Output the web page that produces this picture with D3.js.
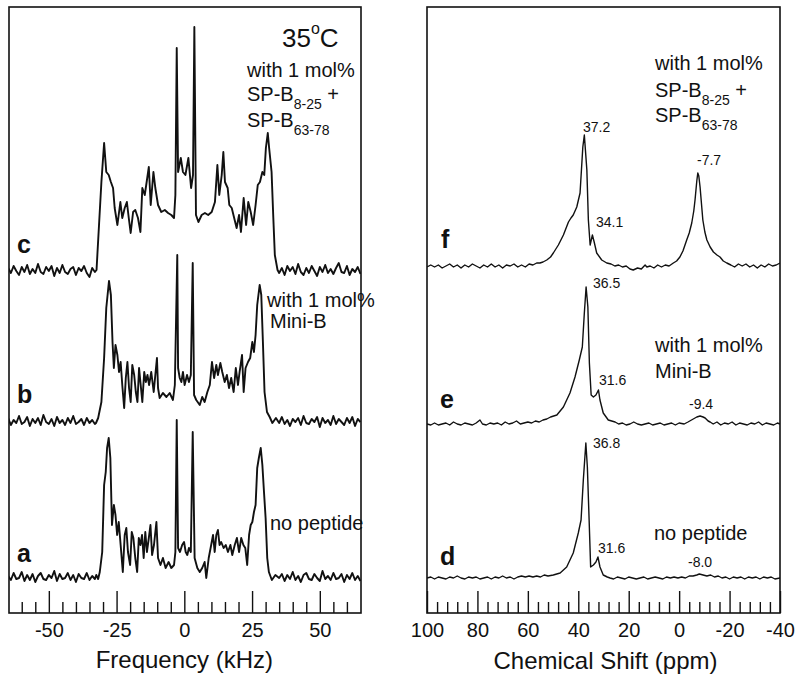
<!DOCTYPE html>
<html><head><meta charset="utf-8">
<script src="https://cdn.jsdelivr.net/npm/d3@7"></script>
<style>body{margin:0;background:#fff} svg{display:block}</style>
</head><body><svg id="chart" width="800" height="681"></svg>
<script>
// ---------------- DATA ----------------
// tick values
const freqMajorTicks = [-50, -25, 0, 25, 50];
const freqMinorTicks = [-60, -55, -45, -40, -35, -30, -20, -15, -10, -5, 5, 10, 15, 20, 30, 35, 40, 45, 55, 60];
const ppmMajorTicks = [100, 80, 60, 40, 20, 0, -20, -40];
const ppmMinorTicks = [96, 92, 88, 84, 76, 72, 68, 64, 56, 52, 48, 44, 36, 32, 28, 24, 16, 12, 8, 4, -4, -8, -12, -16, -24, -28, -32, -36];

// 2H spectra (kHz, relative intensity); baseline noise read at 1 kHz steps
const noiseLeftStart = -65, noiseRightStart = 35;
const cNoiseL = [2,-3,4,-1,-5,3,-2,5,-4,1,-3,6,-2,-4,3,-1,4,-6,2,-3,5,-2,-4,1,3,-5,2,-1,4,-3,-7,2,-2];
const cNoiseR = [-3,2,-5,4,-1,3,-4,6,-2,-5,2,-3,4,-1,-6,3,-2,5,-3,1,-4,2,7,-2,-3,4,-5,1,-2,3,-4];
const bNoiseL = [3,-4,1,-2,5,-3,-1,4,-5,2,-2,3,-4,6,-1,-3,2,-5,4,-2,1,-4,3,-2,5,-3,-1,2,-4,3,-2,1,-3];
const bNoiseR = [-2,4,-3,1,-5,2,-1,3,-4,5,-2,-3,2,-1,4,-6,3,-2,1,-4,5,-3,2,-1,-4,3,-2,4,-5,2,-1];
const aNoiseL = [1,-3,4,-2,-1,5,-4,2,-3,3,-5,1,4,-2,-3,2,-1,6,-4,3,-2,-1,4,-3,2,-5,3,-1,-2,4,-3,1,-2];
const aNoiseR = [-1,3,-4,2,-2,5,-3,1,-5,2,4,-2,-3,3,-1,-4,6,-2,1,-3,4,-2,-1,3,-5,2,-2,4,-3,1,-4];

const spectrumC = [[-32.4,0],[-30.6,88],[-29.6,127],[-28.8,98],[-27.9,95],[-27.1,88],[-26.3,82],[-25.7,62],[-24.7,45],[-23.6,68],[-22.9,52],[-22.0,62],[-21.2,68],[-20.5,52],[-19.8,37],[-18.9,58],[-18.1,60],[-17.1,52],[-16.2,38],[-15.5,82],[-14.6,75],[-13.9,88],[-13.1,103],[-12.4,65],[-11.4,98],[-10.7,82],[-9.7,65],[-8.5,58],[-7.2,60],[-6.0,57],[-4.8,55],[-3.8,52],[-3.3,75],[-2.8,222],[-2.3,98],[-1.3,112],[-0.5,98],[0.4,95],[1.5,112],[2.5,82],[3.2,95],[3.7,243],[4.3,55],[5.2,48],[6.4,55],[7.6,57],[8.8,55],[10.1,58],[11.3,68],[12.2,105],[12.9,75],[13.8,95],[14.4,118],[15.0,88],[16.0,82],[16.6,65],[17.5,62],[18.4,52],[19.3,42],[20.2,55],[20.9,38],[21.9,72],[22.8,45],[23.6,68],[24.5,58],[25.4,45],[26.3,65],[27.1,85],[27.9,88],[28.8,98],[29.5,95],[30.1,122],[30.8,137],[31.3,122],[32.2,98],[32.8,55],[33.4,15],[34.4,0]];

const spectrumB = [[-32.6,-2],[-31.8,3],[-30.6,19],[-29.6,63],[-28.8,113],[-27.8,140],[-27.1,126],[-26.5,79],[-26.0,53],[-25.4,76],[-24.7,66],[-24.1,49],[-23.5,59],[-22.9,36],[-22.2,13],[-21.6,43],[-21.0,59],[-20.4,33],[-19.8,19],[-19.2,56],[-18.5,46],[-17.9,29],[-17.3,19],[-16.7,53],[-16.1,36],[-15.5,19],[-14.8,49],[-14.2,39],[-13.6,46],[-13.0,36],[-12.2,49],[-11.3,29],[-10.7,46],[-10.1,63],[-9.7,33],[-9.1,23],[-7.9,28],[-6.6,24],[-5.4,28],[-4.2,21],[-3.5,36],[-2.6,166],[-2.3,53],[-1.7,43],[-1.1,39],[-0.5,49],[0.1,36],[1.0,46],[1.7,39],[2.4,46],[3.1,158],[3.6,26],[4.4,21],[5.7,16],[6.6,24],[7.5,19],[8.5,29],[9.4,36],[10.2,59],[11.0,43],[11.8,56],[12.4,46],[13.3,58],[14.0,49],[14.9,39],[15.7,46],[16.5,33],[17.3,43],[18.2,29],[19.0,53],[19.8,36],[20.4,49],[21.3,66],[21.9,29],[22.6,53],[23.5,59],[24.3,63],[25.1,79],[25.7,69],[26.3,86],[26.9,116],[27.8,136],[28.4,126],[29.0,79],[29.6,29],[30.5,9],[31.5,4],[32.5,-2],[33.8,3]];

const spectrumA = [[-32.5,2],[-31.8,-2],[-31.2,5],[-30.3,25],[-29.6,92],[-29.0,105],[-28.5,129],[-27.9,139],[-27.3,119],[-26.7,52],[-26.0,72],[-25.4,62],[-24.8,42],[-24.2,55],[-23.5,32],[-22.7,5],[-22.0,42],[-21.4,49],[-20.8,25],[-20.0,12],[-19.4,45],[-18.8,39],[-18.1,19],[-17.4,5],[-16.8,39],[-16.2,32],[-15.6,42],[-15.0,19],[-14.4,45],[-13.8,25],[-13.1,39],[-12.5,52],[-11.9,22],[-11.2,32],[-10.3,55],[-9.7,19],[-8.8,12],[-7.9,19],[-6.9,9],[-5.8,15],[-4.8,9],[-3.8,12],[-3.3,25],[-2.8,157],[-2.3,29],[-1.6,25],[-0.8,32],[-0.1,35],[0.5,25],[1.1,22],[1.7,29],[2.4,25],[3.1,145],[3.8,19],[4.8,9],[5.7,5],[6.6,9],[7.5,15],[8.1,-1],[9.0,19],[9.7,29],[10.6,42],[11.2,25],[11.8,42],[12.4,47],[13.0,32],[13.6,35],[14.5,29],[15.3,32],[16.1,25],[17.0,32],[17.7,22],[18.6,32],[19.4,39],[20.2,25],[21.0,39],[21.8,32],[22.5,29],[23.2,12],[23.9,42],[24.5,52],[25.1,55],[25.7,65],[26.3,72],[26.9,109],[27.5,119],[28.2,129],[28.8,112],[29.4,85],[30.0,59],[30.6,19],[31.2,5],[32.3,-3],[33.6,2]];

// 13C spectra (ppm, relative intensity)
const spectrumF = [[100,-1],[98.5,1],[97,-1],[95.5,1],[94,-2],[92.5,0],[91,2],[89.5,-1],[88,1],[86.5,-2],[85,1],[83.5,-1],[82,2],[80.5,0],[79,-2],[77.5,1],[76,-1],[74.5,2],[73,-1],[71.5,1],[70,-2],[68.5,1],[67,0],[65.5,2],[64,-1],[62.5,1],[61,-1],[59.5,2],[58,1],[56.5,3],[55.2,3],[54,4],[52.5,6],[51,9],[49.9,13],[47.9,21],[45.9,31],[43.9,44],[42.9,48],[42,51],[40.6,59],[39.3,73],[38.2,119],[37.6,131],[36.6,96],[36,46],[35.3,21],[34.4,31],[33.7,24],[32.7,13],[30.7,6],[28.7,3],[27,2],[25.5,0],[24,1],[22.5,-1],[21,0],[19.5,-3],[18.2,-4],[16.5,-2],[15,-3],[13.5,1],[12.8,-1],[11.5,0],[10,-2],[8.5,1],[7,-1],[5.5,1],[4,0],[2.3,3],[1,5],[-0.3,9],[-1.5,15],[-3,26],[-4,33],[-5,43],[-5.8,55],[-6.3,66],[-7,85],[-7.4,93],[-7.8,90],[-8.3,79],[-9.4,46],[-10.2,34],[-11,26],[-12.3,19],[-13.6,14],[-15,11],[-16.2,9],[-17.5,5],[-18.9,3],[-20.5,1],[-22,-1],[-23.5,2],[-25,0],[-26.5,2],[-28,-1],[-29.5,1],[-31,-2],[-32.5,1],[-34,-1],[-35.5,2],[-37,0],[-38.5,1],[-40,3]];

const spectrumE = [[100,0],[98.5,-1],[97,1],[95.5,-1],[94,0],[92.5,1],[91,-1],[89.5,2],[88,0],[86.5,-1],[85,1],[83.5,0],[82,-1],[80.5,1],[79,4],[78,0],[76.5,-1],[75,1],[73.5,0],[72,1],[70.5,-1],[69,2],[67.5,0],[66,1],[64.5,3],[63,0],[61.5,1],[60,2],[58.5,1],[57,3],[55.5,2],[54,4],[52.5,5],[51,7],[48.5,9],[45.9,17],[43.3,31],[41.3,47],[39.6,64],[38.4,77],[37.6,111],[36.9,137],[36.2,117],[35.6,61],[34.9,29],[34,27],[33,29],[32,34],[31.4,24],[30.1,11],[28.1,4],[25.4,2],[24,0],[22.5,1],[21,-1],[19.5,0],[18,2],[16.5,0],[15,-1],[13.5,0],[12,1],[10.5,-1],[9,0],[7.5,1],[6,-1],[4.5,0],[3,1],[1.5,-1],[0,1],[-2,0],[-3.5,2],[-5.6,5],[-7,7],[-8.3,8],[-9.5,7],[-10.3,6],[-11.5,3],[-12.3,2],[-13.5,0],[-15,2],[-16.5,-1],[-18,1],[-19.5,0],[-21,2],[-22.5,-1],[-24,1],[-25.5,0],[-27,-1],[-28.5,1],[-30,0],[-31.5,2],[-33,-1],[-34.5,1],[-36,0],[-37.5,-1],[-39,1],[-40,0]];

const spectrumD = [[100,0],[98.5,1],[97,-1],[95.5,1],[94,0],[92.5,-1],[91,1],[89.5,0],[88,2],[86.5,0],[85,-1],[83.5,1],[82,0],[80.5,1],[79,-1],[77.5,0],[76,1],[74.5,-1],[73,1],[71.5,0],[70,2],[68.5,0],[67,1],[65.5,-1],[64,1],[62.5,2],[61,1],[59.5,2],[58,1],[56.5,2],[55,1],[53.5,3],[52,2],[49.9,3],[47.2,5],[44.6,11],[42,25],[40,45],[38.9,58],[38,98],[37,135],[36.4,111],[35.7,58],[35.1,11],[34,13],[33,16],[32.2,21],[31.4,11],[30.1,3],[28.5,1],[27.4,0],[26,-1],[24.5,1],[23,0],[21.5,-1],[20,1],[18.5,0],[17,-1],[15.5,0],[14,1],[12.5,-1],[11,0],[9.5,1],[8,0],[6.5,-1],[5,1],[3.5,0],[2,1],[0.5,0],[-1,1],[-2.5,0],[-4,2],[-5.5,2],[-7,3],[-8,4],[-9.5,3],[-11,2],[-12.5,3],[-14,1],[-15.5,2],[-17,0],[-18.5,1],[-20,-1],[-21.5,1],[-23,0],[-24.5,1],[-26,-1],[-27.5,1],[-29,0],[-30.5,1],[-32,-1],[-33.5,1],[-35,0],[-36.5,1],[-38,-1],[-40,0]];

// peak labels
const peakLabelsF = ["37.2", "34.1", "-7.7"];
const peakLabelsE = ["36.5", "31.6", "-9.4"];
const peakLabelsD = ["36.8", "31.6", "-8.0"];

// ---------------- DRAWING ----------------
const FONT = '"Liberation Sans", Arial, Helvetica, sans-serif';
const svg = d3.select("#chart").style("font-family", FONT);

const LP = {x0: 9, x1: 361, y0: 7, y1: 613};
const RP = {x0: 427, x1: 780, y0: 7, y1: 613};

const xF = d3.scaleLinear().domain([-64.7, 65.2]).range([LP.x0, LP.x1]);
const xP = d3.scaleLinear().domain([100, -40]).range([RP.x0, RP.x1]);
const yI = d3.scaleLinear().domain([0, 100]).range([0, -100]);

const defs = svg.append("defs");
[["clipL", LP], ["clipR", RP]].forEach(([id, p]) => {
  defs.append("clipPath").attr("id", id).append("rect")
    .attr("x", p.x0).attr("y", p.y0).attr("width", p.x1 - p.x0).attr("height", p.y1 - p.y0);
});

function assemble(noiseL, sig, noiseR) {
  const pts = [];
  noiseL.forEach((v, i) => pts.push([noiseLeftStart + i, v]));
  sig.forEach(p => pts.push(p));
  noiseR.forEach((v, i) => pts.push([noiseRightStart + i, v]));
  return pts;
}

const lineF = d3.line().x(d => xF(d[0])).y(d => yI(d[1]));
const lineP = d3.line().x(d => xP(d[0])).y(d => yI(d[1]));

const gL = svg.append("g").attr("clip-path", "url(#clipL)");
[[assemble(cNoiseL, spectrumC, cNoiseR), 270],
 [assemble(bNoiseL, spectrumB, bNoiseR), 421],
 [assemble(aNoiseL, spectrumA, aNoiseR), 577]].forEach(([pts, base]) => {
  gL.append("path").datum(pts).attr("transform", `translate(0,${base})`)
    .attr("d", lineF).attr("fill", "none").attr("stroke", "#111")
    .attr("stroke-width", 1.9).attr("stroke-linejoin", "round");
});

const gR = svg.append("g").attr("clip-path", "url(#clipR)");
[[spectrumF, 266], [spectrumE, 424], [spectrumD, 578]].forEach(([pts, base]) => {
  gR.append("path").datum(pts).attr("transform", `translate(0,${base})`)
    .attr("d", lineP).attr("fill", "none").attr("stroke", "#111")
    .attr("stroke-width", 1.4).attr("stroke-linejoin", "round");
});

// axes (inward ticks)
function drawAxis(x, majors, minors, yb) {
  const gMin = svg.append("g").attr("transform", `translate(0,${yb})`)
    .call(d3.axisBottom(x).tickValues(minors).tickSize(-11).tickFormat(""));
  const gMaj = svg.append("g").attr("transform", `translate(0,${yb})`)
    .call(d3.axisBottom(x).tickValues(majors).tickSize(-22).tickPadding(10).tickFormat(d => d));
  [gMin, gMaj].forEach(g => {
    g.select(".domain").remove();
    g.selectAll("line").attr("stroke", "#111").attr("stroke-width", 1.4);
  });
  gMaj.selectAll("text").attr("font-size", 20).attr("fill", "#111").style("font-family", FONT);
}
drawAxis(xF, freqMajorTicks, freqMinorTicks, LP.y1);
drawAxis(xP, ppmMajorTicks, ppmMinorTicks, RP.y1);

// frames
[LP, RP].forEach(p => {
  svg.append("rect").attr("x", p.x0).attr("y", p.y0)
    .attr("width", p.x1 - p.x0).attr("height", p.y1 - p.y0)
    .attr("fill", "none").attr("stroke", "#111").attr("stroke-width", 1.6);
});

// axis titles
svg.append("text").attr("x", xF(0)).attr("y", 668).attr("text-anchor", "middle")
  .attr("font-size", 24).attr("fill", "#111").text("Frequency (kHz)");
svg.append("text").attr("x", (RP.x0 + RP.x1) / 2 + 2).attr("y", 669).attr("text-anchor", "middle")
  .attr("font-size", 24).attr("fill", "#111").text("Chemical Shift (ppm)");

// trace letters
[["c", 17, 253], ["b", 17, 403], ["a", 17, 562], ["f", 441, 248], ["e", 440, 408], ["d", 440, 565]]
  .forEach(([t, x, y]) => {
    svg.append("text").attr("x", x).attr("y", y).attr("font-size", 25)
      .attr("font-weight", "bold").attr("fill", "#111").text(t);
  });

// temperature
const temp = svg.append("text").attr("x", 282).attr("y", 47).attr("font-size", 26).attr("fill", "#111");
temp.append("tspan").text("35");
temp.append("tspan").attr("font-size", 16).attr("dy", -13).text("o");
temp.append("tspan").attr("dy", 13).text("C");

function plain(t, x, y, size) {
  svg.append("text").attr("x", x).attr("y", y).attr("font-size", size).attr("fill", "#111").text(t);
}
function subText(main, sub, tail, x, y) {
  const t = svg.append("text").attr("x", x).attr("y", y).attr("font-size", 20).attr("fill", "#111");
  t.append("tspan").text(main);
  t.append("tspan").attr("font-size", 14).attr("dy", 8).text(sub);
  if (tail) t.append("tspan").attr("dy", -8).text(tail);
}

// sample annotations
plain("with 1 mol%", 247, 77, 20);
subText("SP-B", "8-25", " +", 247, 101);
subText("SP-B", "63-78", null, 247, 127);
plain("with 1 mol%", 267, 307, 20);
plain("Mini-B", 270, 328, 20);
plain("no peptide", 270, 530, 20);

plain("with 1 mol%", 655, 70, 20);
subText("SP-B", "8-25", " +", 655, 97);
subText("SP-B", "63-78", null, 655, 122);
plain("with 1 mol%", 655, 352, 20);
plain("Mini-B", 655, 378, 20);
plain("no peptide", 654, 540, 20);

// peak labels
[[peakLabelsF, [[583, 132], [596, 227], [697, 165]]],
 [peakLabelsE, [[593, 288], [599, 385], [689, 409]]],
 [peakLabelsD, [[593, 448], [598, 553], [688, 567]]]].forEach(([labels, pos]) => {
  labels.forEach((t, i) => plain(t, pos[i][0], pos[i][1], 14));
});
</script></body></html>
